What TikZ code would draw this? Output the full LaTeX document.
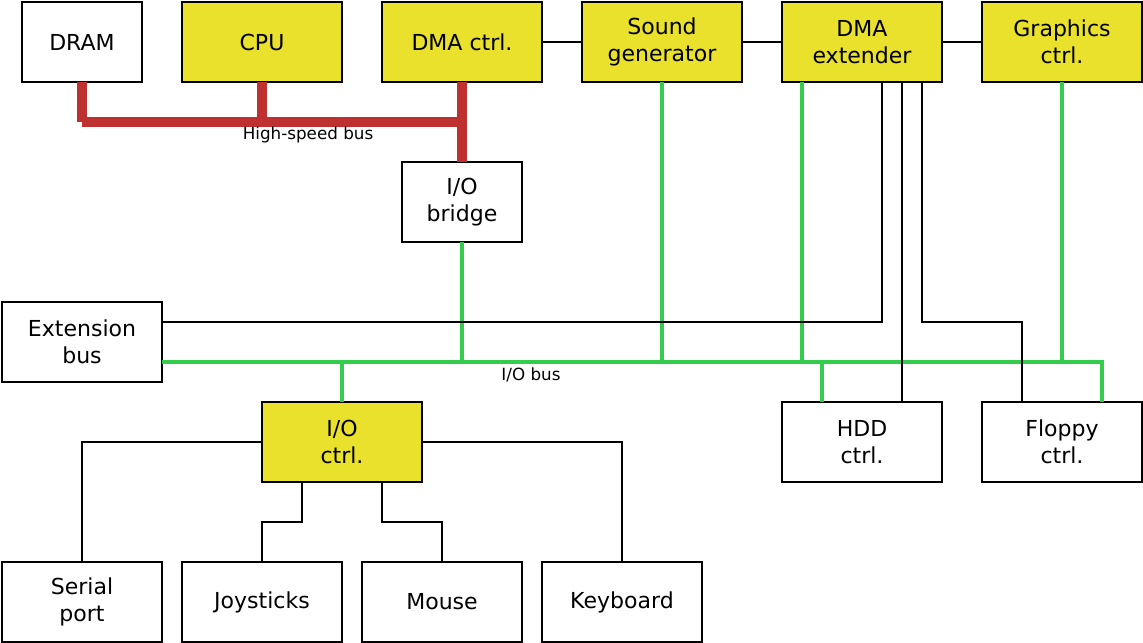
\documentclass[tikz,border=0pt]{standalone}
\usepackage{fontspec}
\setmainfont{DejaVu Sans}
\usetikzlibrary{calc}
\definecolor{chipyellow}{HTML}{E9E12B}
\definecolor{hsred}{HTML}{BF3131}
\definecolor{iogreen}{HTML}{33CC4D}

\begin{document}
\begin{tikzpicture}[x=0.03cm,y=-0.03cm,
  box/.style={draw,line width=1.7pt,inner sep=0pt,outer sep=0pt,
    minimum width=4.8cm,minimum height=2.4cm,align=center,
    font=\fontsize{18.8}{23.5}\selectfont},
  narrow/.style={box,minimum width=3.6cm},
  chip/.style={box,fill=chipyellow},
  wire/.style={line width=1.7pt},
  hsbus/.style={line width=7.7pt,hsred},
  iobus/.style={line width=2.6pt,iogreen},
  buslabel/.style={font=\fontsize{14.3}{17}\selectfont}]
  \useasboundingbox (0,0) rectangle (1143,643);

  % top row
  \node[narrow] (dram) at (82,42) {DRAM};
  \node[chip] (cpu) at (262,42) {CPU};
  \node[chip] (dmactrl) at (462,42) {DMA ctrl.};
  \node[chip] (sound) at (662,42) {Sound\\generator};
  \node[chip] (dmaext) at (862,42) {DMA\\extender};
  \node[chip] (gfx) at (1062,42) {Graphics\\ctrl.};
  \node[narrow] (bridge) at (462,202) {I/O\\bridge};

  % middle
  \node[box] (extbus) at (82,342) {Extension\\bus};
  \node[chip] (ioctrl) at (342,442) {I/O\\ctrl.};
  \node[box] (hdd) at (862,442) {HDD\\ctrl.};
  \node[box] (floppy) at (1062,442) {Floppy\\ctrl.};

  % bottom row
  \node[box] (serial) at (82,602) {Serial\\port};
  \node[box] (joy) at (262,602) {Joysticks};
  \node[box] (mouse) at (442,602) {Mouse};
  \node[box] (keyb) at (622,602) {Keyboard};

  % high-speed bus
  \coordinate (hsL) at (82,122);
  \coordinate (hsR) at (462,122);
  \draw[hsbus] (dram.south) -- (hsL);
  \draw[hsbus] (cpu.south) -- (cpu.south |- hsL);
  \draw[hsbus] (hsL) -- (hsR);
  \draw[hsbus] (dmactrl.south) -- (bridge.north);
  \node[buslabel] (hslabel) at (308,135) {High-speed bus};

  % I/O bus
  \coordinate (ioL) at (162,362);
  \coordinate (ioR) at (1102,362);
  \coordinate (extA) at ($(dmaext.south)+(-60,0)$);
  \coordinate (hddA) at ($(hdd.north)+(-40,0)$);
  \draw[iobus] (ioL) -- (ioR) -- (ioR |- floppy.north);
  \draw[iobus] (bridge.south) -- (bridge.south |- ioL);
  \draw[iobus] (sound.south) -- (sound.south |- ioL);
  \draw[iobus] (extA) -- (extA |- ioL);
  \draw[iobus] (gfx.south) -- (gfx.south |- ioL);
  \draw[iobus] (ioctrl.north) -- (ioctrl.north |- ioL);
  \draw[iobus] (hddA |- ioL) -- (hddA);
  \node[buslabel] (iolabel) at (531,375) {I/O bus};

  % plain links
  \draw[wire] (dmactrl) -- (sound);
  \draw[wire] (sound) -- (dmaext);
  \draw[wire] (dmaext) -- (gfx);
  \draw[wire] ($(dmaext.south)+(20,0)$) |- ($(extbus.north east)+(0,20)$);
  \draw[wire] ($(dmaext.south)+(40,0)$) -- ($(hdd.north)+(40,0)$);
  \draw[wire] ($(dmaext.south)+(60,0)$) -- ++(0,240) -| ($(floppy.north)+(-40,0)$);
  \draw[wire] (ioctrl.west) -| (serial.north);
  \draw[wire] (ioctrl.east) -| (keyb.north);
  \draw[wire] ($(ioctrl.south)+(-40,0)$) -- ++(0,40) -| (joy.north);
  \draw[wire] ($(ioctrl.south)+(40,0)$) -- ++(0,40) -| (mouse.north);
\end{tikzpicture}
\end{document}
